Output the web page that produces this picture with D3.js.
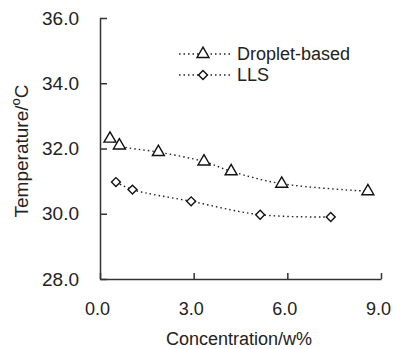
<!DOCTYPE html>
<html>
<head>
<meta charset="utf-8">
<script src="https://cdn.jsdelivr.net/npm/d3@7"></script>
<style>
  body { margin: 0; background: #fff; }
  svg { display: block; font-family: "Liberation Sans", Arial, sans-serif; }
</style>
</head>
<body>
<svg width="393" height="349"></svg>
<script>
// Series data
const dropletX = [0.32, 0.62, 1.87, 3.33, 4.2, 5.82, 8.58];
const dropletY = [32.3, 32.09, 31.89, 31.6, 31.3, 30.92, 30.69];
const llsX = [0.51, 1.04, 2.92, 5.13, 7.39];
const llsY = [30.97, 30.74, 30.38, 29.97, 29.9];
const xTicks = [0, 3, 6, 9];
const yTicks = [28, 30, 32, 34, 36];
const seriesNames = ['Droplet-based', 'LLS'];

const svg = d3.select('svg');
const x = d3.scaleLinear().domain([0, 9]).range([100, 381]);
const y = d3.scaleLinear().domain([28, 36]).range([279, 18]);

const axisColor = '#333';
const textColor = '#222';

// Axes (ticks point inward)
const xAxis = svg.append('g')
  .attr('transform', `translate(0,${y(28)})`)
  .call(d3.axisBottom(x).tickValues(xTicks).tickSizeInner(-6).tickSizeOuter(0).tickFormat(d3.format('.1f')));
xAxis.select('.domain').attr('stroke', axisColor).attr('stroke-width', 1.5);
xAxis.selectAll('.tick line').attr('stroke', axisColor).attr('stroke-width', 1.5);
xAxis.selectAll('.tick text').attr('x', -3).attr('y', 36).attr('dy', 0)
  .attr('font-size', 18).attr('fill', textColor).attr('font-family', 'Liberation Sans, Arial, sans-serif');

const yAxis = svg.append('g')
  .attr('transform', `translate(${x(0)},0)`)
  .call(d3.axisLeft(y).tickValues(yTicks).tickSizeInner(-7).tickSizeOuter(0).tickFormat(d3.format('.1f')));
yAxis.select('.domain').attr('stroke', axisColor).attr('stroke-width', 1.5);
yAxis.selectAll('.tick line').attr('stroke', axisColor).attr('stroke-width', 1.5);
yAxis.selectAll('.tick text').attr('x', -21)
  .attr('font-size', 19).attr('fill', textColor).attr('font-family', 'Liberation Sans, Arial, sans-serif');

// Axis titles
svg.append('text')
  .attr('x', 239).attr('y', 345)
  .attr('text-anchor', 'middle')
  .attr('font-size', 18).attr('fill', textColor)
  .text('Concentration/w%');

const yTitle = svg.append('text')
  .attr('transform', 'translate(28,151) rotate(-90)')
  .attr('text-anchor', 'middle')
  .attr('font-size', 19).attr('fill', textColor);
yTitle.append('tspan').text('Temperature/');
yTitle.append('tspan').attr('font-size', 13).attr('dy', -8).text('o');
yTitle.append('tspan').attr('dy', 8).text('C');

// Series
const triangle = d3.symbol().type(d3.symbolTriangle).size(62);
const diamond = d3.symbol().type(d3.symbolSquare).size(40);

const line = d3.line().x(d => x(d[0])).y(d => y(d[1])).curve(d3.curveCatmullRom);

const series = [
  { name: seriesNames[0], pts: d3.zip(dropletX, dropletY), sym: triangle, rot: 0 },
  { name: seriesNames[1], pts: d3.zip(llsX, llsY), sym: diamond, rot: 45 }
];

series.forEach(s => {
  svg.append('path')
    .attr('d', line(s.pts))
    .attr('fill', 'none')
    .attr('stroke', '#222')
    .attr('stroke-width', 1.4)
    .attr('stroke-dasharray', '1.5,3');
  svg.selectAll(null)
    .data(s.pts)
    .enter()
    .append('path')
    .attr('d', s.sym())
    .attr('transform', d => `translate(${x(d[0])},${y(d[1])}) rotate(${s.rot})`)
    .attr('fill', '#fff')
    .attr('stroke', '#111')
    .attr('stroke-width', 1.4);
});

// Legend
const legend = svg.append('g');
series.forEach((s, i) => {
  const ly = 54 + i * 21;
  legend.append('line')
    .attr('x1', 179).attr('x2', 232).attr('y1', ly).attr('y2', ly)
    .attr('stroke', '#222').attr('stroke-width', 1.4).attr('stroke-dasharray', '1.5,3');
  legend.append('path')
    .attr('d', s.sym())
    .attr('transform', `translate(203,${ly}) rotate(${s.rot})`)
    .attr('fill', '#fff').attr('stroke', '#111').attr('stroke-width', 1.4);
  legend.append('text')
    .attr('x', 237).attr('y', ly).attr('dy', '0.35em')
    .attr('font-size', 18).attr('fill', textColor)
    .text(s.name);
});
</script>
</body>
</html>
